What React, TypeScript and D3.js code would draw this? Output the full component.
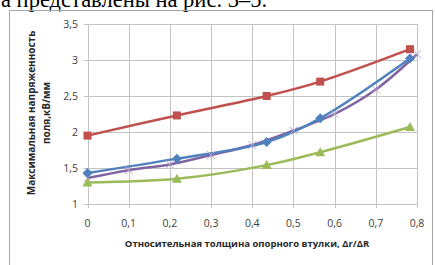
import React from "react";
import * as d3 from "d3";

const xMain = [0, 0.217, 0.435, 0.565, 0.783];
const redValues = [1.95, 2.23, 2.5, 2.7, 3.15];
const blueValues = [1.43, 1.63, 1.86, 2.19, 3.02];
const greenValues = [1.3, 1.35, 1.54, 1.72, 2.07];
const xPurple = [0, 0.1, 0.2, 0.3, 0.4, 0.5, 0.6, 0.7, 0.8];
const purpleValues = [1.36, 1.47, 1.55, 1.68, 1.82, 2.02, 2.25, 2.59, 3.08];
const xTicks = [0, 0.1, 0.2, 0.3, 0.4, 0.5, 0.6, 0.7, 0.8];
const yTicks = [1, 1.5, 2, 2.5, 3, 3.5];
const yTitle = ["Максимальная напряженность", "поля,кВ/мм"];
const xTitle = "Относительная толщина опорного  втулки, Δr/ΔR";
const topText = "а представлены на рис. 3–5.";

const fmt = (v: number) => String(v).replace(".", ",");

export default function App() {
  const W = 435, H = 265;
  const x = d3.scaleLinear().domain([0, 0.8]).range([87.5, 417]);
  const y = d3.scaleLinear().domain([1, 3.5]).range([204, 24]);
  const line = d3
    .line<[number, number]>()
    .x((d) => x(d[0]))
    .y((d) => y(d[1]))
    .curve(d3.curveCatmullRom.alpha(0.5));
  const pts = (xs: number[], ys: number[]) => xs.map((v, i) => [v, ys[i]] as [number, number]);
  const font = "'Open Sans', 'DejaVu Sans', sans-serif";
  const grid = "#c3c3c3";
  const sq = 8;
  return (
    <svg width={W} height={H} style={{ position: "absolute", left: 0, top: 0, background: "#fff" }}>
      <text x={1} y={7} fontFamily="'Liberation Serif', 'DejaVu Serif', serif" fontSize={22.5} fill="#000">
        {topText}
      </text>
      <rect x={9.5} y={10.5} width={423} height={270} fill="none" stroke="#a6a6a6" strokeWidth={1} />
      {yTicks.map((t) => (
        <g key={"y" + t}>
          <line x1={83.5} x2={x(0.8)} y1={Math.round(y(t)) + 0.5} y2={Math.round(y(t)) + 0.5} stroke={grid} />
          <text x={78} y={y(t) + 4} textAnchor="end" fontFamily={font} fontSize={10.5} fill="#404040">
            {fmt(t)}
          </text>
        </g>
      ))}
      {xTicks.map((t) => (
        <g key={"x" + t}>
          <line x1={Math.round(x(t)) + 0.5} x2={Math.round(x(t)) + 0.5} y1={y(3.5)} y2={y(1) + 4} stroke={grid} />
          <text x={x(t)} y={227} textAnchor="middle" fontFamily={font} fontSize={10.5} fill="#404040">
            {fmt(t)}
          </text>
        </g>
      ))}
      <g transform={`translate(35, 113) rotate(-90)`}>
        <text x={0} y={0} textAnchor="middle" fontFamily={font} fontSize={10} fontWeight="bold" fill="#262626">
          {yTitle[0]}
        </text>
        <text x={0} y={15} textAnchor="middle" fontFamily={font} fontSize={10} fontWeight="bold" fill="#262626">
          {yTitle[1]}
        </text>
      </g>
      <text x={247} y={247} textAnchor="middle" fontFamily={font} fontSize={9.5} fontWeight="bold" fill="#262626">
        {xTitle}
      </text>
      <path d={line(pts(xMain, redValues)) || ""} fill="none" stroke="#C0504D" strokeWidth={2.5} />
      <path d={line(pts(xMain, greenValues)) || ""} fill="none" stroke="#9BBB59" strokeWidth={2.5} />
      <path d={line(pts(xPurple, purpleValues)) || ""} fill="none" stroke="#8064A2" strokeWidth={2.5} />
      <path d={line(pts(xMain, blueValues)) || ""} fill="none" stroke="#4F81BD" strokeWidth={2.5} />
      {xPurple.map((v, i) => {
        const cx = x(v), cy = y(purpleValues[i]);
        return (
          <g key={"p" + i} stroke="#b9a8d4" strokeWidth={1}>
            <line x1={cx - 4} y1={cy - 4} x2={cx + 4} y2={cy + 4} />
            <line x1={cx - 4} y1={cy + 4} x2={cx + 4} y2={cy - 4} />
          </g>
        );
      })}
      {xMain.map((v, i) => (
        <rect key={"r" + i} x={x(v) - sq / 2} y={y(redValues[i]) - sq / 2} width={sq} height={sq} fill="#C0504D" />
      ))}
      {xMain.map((v, i) => {
        const cx = x(v), cy = y(blueValues[i]);
        return <path key={"b" + i} d={`M${cx},${cy - 5}L${cx + 5},${cy}L${cx},${cy + 5}L${cx - 5},${cy}Z`} fill="#4F81BD" />;
      })}
      {xMain.map((v, i) => {
        const cx = x(v), cy = y(greenValues[i]);
        return <path key={"g" + i} d={`M${cx},${cy - 5}L${cx + 5},${cy + 4}L${cx - 5},${cy + 4}Z`} fill="#9BBB59" />;
      })}
    </svg>
  );
}
